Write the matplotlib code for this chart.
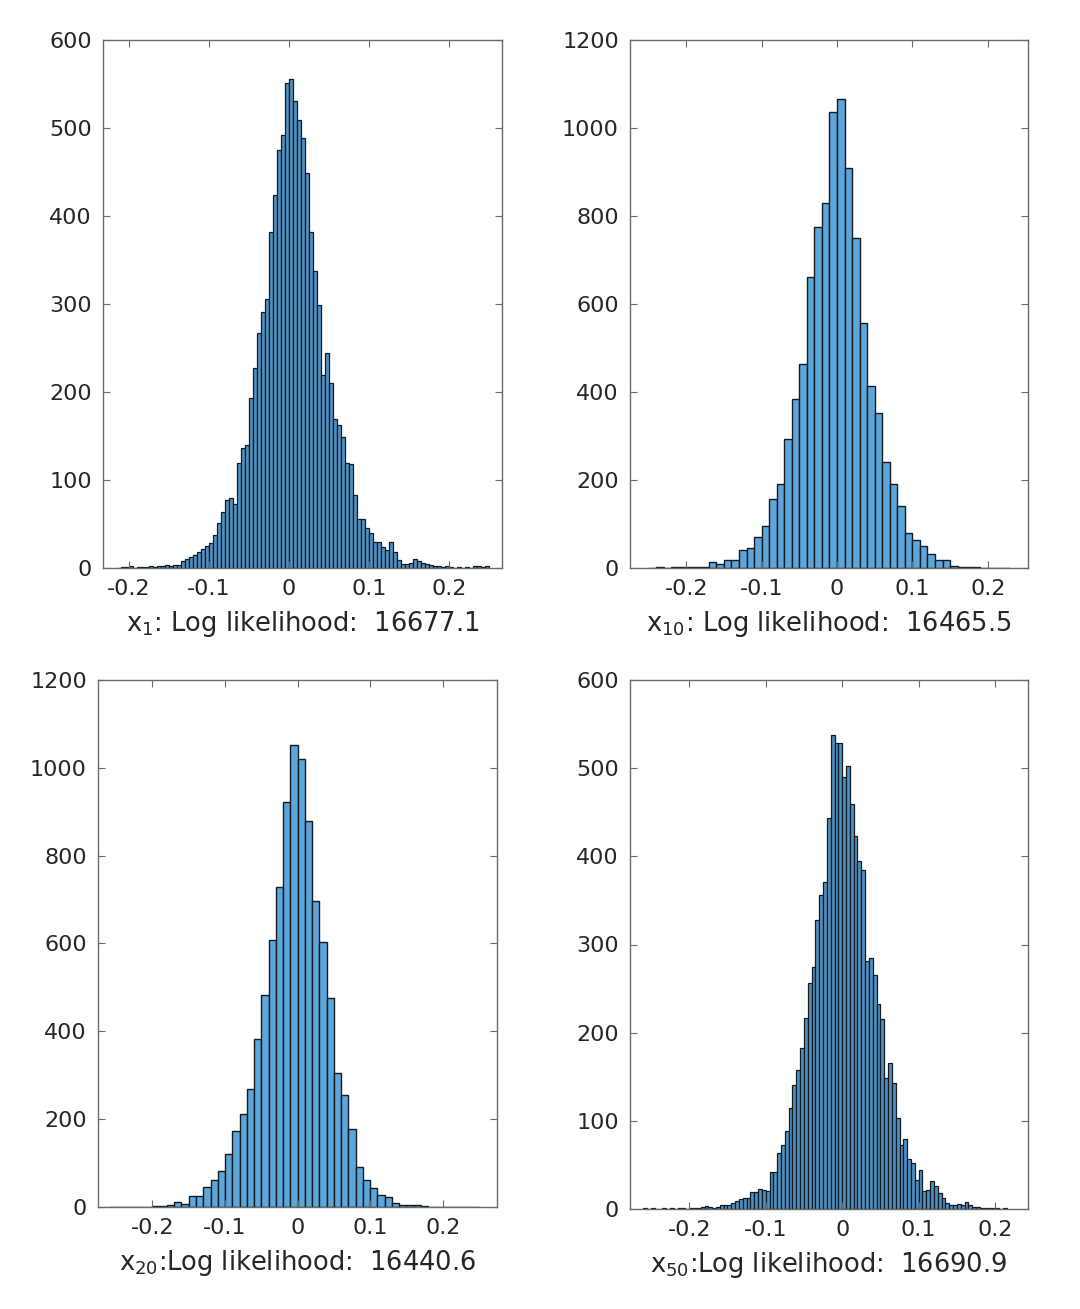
import numpy as np
import matplotlib
matplotlib.use("Agg")
import matplotlib.pyplot as plt

plt.rcParams['font.family'] = ['DejaVu Sans']
plt.rcParams['axes.unicode_minus'] = False
plt.rcParams['mathtext.default'] = 'regular'

# ---------------- data (bin counts) ----------------
# panel 1: x_1, bin width 0.005, first bin edge -0.215
p1_start, p1_width = -0.215, 0.005
p1_counts = [0, 1, 1, 2, 0, 1, 1, 1, 2, 1, 2, 2, 3, 2, 3, 3, 8, 10, 12, 15,
             18, 22, 25, 28, 37, 51, 64, 77, 79, 73, 119, 136, 140, 193, 227, 267,
             291, 306, 382, 424, 475, 492, 551,
             556, 531, 509, 489, 449, 382, 337, 299, 219, 244, 210, 169, 162, 149,
             119, 118, 83, 56, 56, 45, 40, 30, 30, 24, 20, 30, 18, 9, 4, 4, 6, 10,
             8, 6, 4, 3, 2, 2, 1, 2, 1, 0, 1, 0, 1, 0, 2, 2, 1, 2]

# panel 2: x_10, bin width 0.01, first bin edge -0.25
p2_start, p2_width = -0.25, 0.01
p2_counts = [1, 2, 1, 2, 2, 3, 2, 3, 13, 10, 18, 18, 41, 46, 70, 96, 156, 190,
             293, 384, 464, 662, 776, 829, 1037,
             1066, 908, 751, 556, 414, 352, 240, 191, 142, 79, 64, 51, 32, 18, 18,
             5, 3, 2, 2, 1, 1, 0, 1]

# panel 3: x_20, bin width 0.01, first bin edge -0.26
p3_start, p3_width = -0.26, 0.01
p3_counts = [0, 0, 1, 0, 1, 1, 2, 3, 4, 11, 7, 24, 24, 45, 62, 81, 121, 173, 211,
             269, 383, 482, 607, 728, 923, 1051,
             1019, 879, 696, 604, 475, 305, 256, 178, 91, 62, 44, 28, 22, 9, 4, 5,
             4, 2, 1, 1, 1, 0, 0, 0, 1]

# panel 4: x_50, bin width 0.005, first bin edge -0.26
p4_start, p4_width = -0.26, 0.005
p4_counts = [1, 0, 1, 0, 0, 1, 0, 1, 0, 1, 1, 0, 1, 1, 1, 2, 3, 2, 1, 2, 4, 4, 5, 7,
             9, 11, 12, 13, 19, 19, 23, 22, 20, 42, 42, 64, 73, 89, 115, 141, 158,
             183, 217, 256, 275, 328, 356, 371, 443, 538, 529, 529,
             490, 503, 459, 423, 395, 384, 281, 285, 265, 232, 215, 149, 166, 143,
             103, 73, 79, 57, 52, 33, 44, 20, 22, 32, 26, 18, 12, 7, 5, 5, 6, 4, 8,
             5, 2, 2, 1, 1, 1, 1, 1, 0, 1]

labels = [r"x$_{1}$: Log likelihood:  16677.1",
          r"x$_{10}$: Log likelihood:  16465.5",
          r"x$_{20}$:Log likelihood:  16440.6",
          r"x$_{50}$:Log likelihood:  16690.9"]

x_ticks = [-0.2, -0.1, 0, 0.1, 0.2]
x_tick_labels = ["-0.2", "-0.1", "0", "0.1", "0.2"]

panels = [
    dict(start=p1_start, width=p1_width, counts=p1_counts, xlim=(-0.2325, 0.266),
         ylim=(0, 600), yticks=np.arange(0, 601, 100),
         rect=[103/1080, 1-568/1309, 399/1080, 528/1309], face='#4f90c2', lw=0.9),
    dict(start=p2_start, width=p2_width, counts=p2_counts, xlim=(-0.2745, 0.2533),
         ylim=(0, 1200), yticks=np.arange(0, 1201, 200),
         rect=[630/1080, 1-568/1309, 398/1080, 528/1309], face='#5da6da', lw=1.0),
    dict(start=p3_start, width=p3_width, counts=p3_counts, xlim=(-0.275, 0.2747),
         ylim=(0, 1200), yticks=np.arange(0, 1201, 200),
         rect=[98/1080, 1-1207/1309, 399/1080, 527/1309], face='#5da6da', lw=1.0),
    dict(start=p4_start, width=p4_width, counts=p4_counts, xlim=(-0.2775, 0.243),
         ylim=(0, 600), yticks=np.arange(0, 601, 100),
         rect=[630/1080, 1-1209/1309, 398/1080, 529/1309], face='#4f90c2', lw=0.9),
]

fig = plt.figure(figsize=(10.8, 13.09), dpi=100)
fig.patch.set_facecolor('white')

text_col = '#262626'
spine_col = '#6a6a6a'

for p, lab in zip(panels, labels):
    ax = fig.add_axes(p['rect'])
    counts = np.array(p['counts'], dtype=float)
    edges = p['start'] + p['width'] * np.arange(len(counts) + 1)
    ax.hist(edges[:-1] + p['width'] / 2, bins=edges, weights=counts,
            facecolor=p['face'], edgecolor='#141a22', linewidth=p['lw'])
    ax.set_xlim(*p['xlim'])
    ax.set_ylim(*p['ylim'])
    ax.set_xticks(x_ticks)
    ax.set_xticklabels(x_tick_labels)
    ax.set_yticks(p['yticks'])
    ax.set_yticklabels([str(int(v)) for v in p['yticks']])
    ax.tick_params(direction='in', length=5, width=0.8, colors=spine_col,
                   labelcolor=text_col, labelsize=16, top=True, right=True, pad=8)
    for s in ax.spines.values():
        s.set_color(spine_col)
        s.set_linewidth(1.0)
    ax.set_xlabel(lab, fontsize=18.5, color=text_col, labelpad=7)

fig.savefig('out.png', dpi=100, facecolor='white')
